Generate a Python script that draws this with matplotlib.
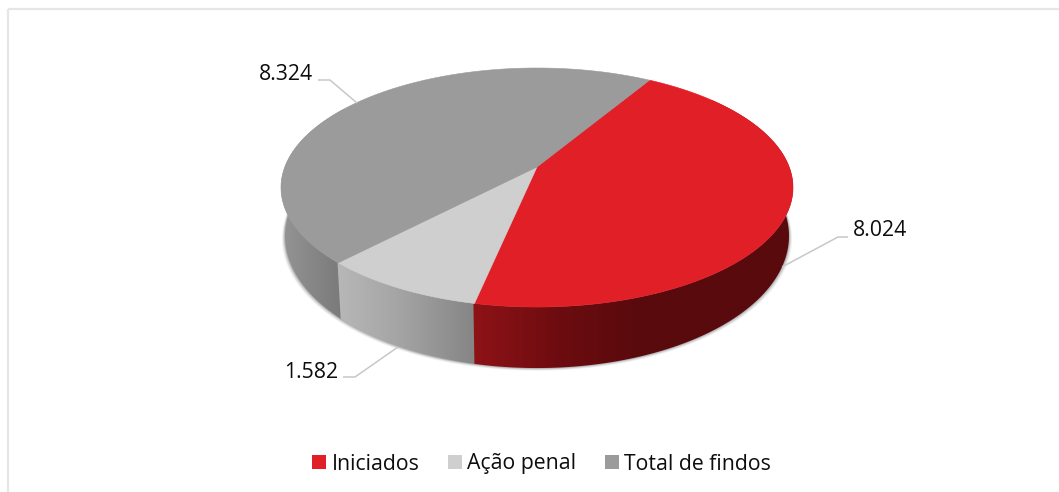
import numpy as np
import matplotlib
matplotlib.use("Agg")
import matplotlib.pyplot as plt
from matplotlib.patches import Polygon, Rectangle
from matplotlib.colors import LinearSegmentedColormap

categories = ["Iniciados", "Ação penal", "Total de findos"]
values = [8024, 1582, 8324]
value_labels = ["8.024", "1.582", "8.324"]
colors = ["#e01f26", "#cfcfcf", "#9b9b9b"]

plt.rcParams["font.family"] = ["Open Sans", "DejaVu Sans"]
W, H = 1059, 492
fig = plt.figure(figsize=(W / 100, H / 100), dpi=100, facecolor="white")
ax = fig.add_axes([0, 0, 1, 1])
ax.set_xlim(0, W); ax.set_ylim(H, 0); ax.axis("off")

# perspective disc: the apex sits above the ellipse centre
CX, APEX_Y, P, K, A = 537.0, 167.0, 116.0, 0.1717, 252.2
TOP_CY, BOT_CY, SY, SX = 187.5, 236.0, 132 / 119.5, 252 / 256
START = 30.8

def top_xy(deg):
    t = np.radians(deg)
    u, v = np.sin(t), np.cos(t)
    d = 1 + K * v
    return CX + A * u / d, APEX_Y - P * v / d

def bot_xy(deg):
    x, y = top_xy(deg)
    return CX + SX * (x - CX), BOT_CY + SY * (y - TOP_CY)

fracs = np.array(values, float) / np.sum(values)
edges = START + 360 * np.concatenate([[0], np.cumsum(fracs)])

# soft shadow under the disc
th = np.linspace(0, 360, 361)
bx, by = bot_xy(th)
for grow, a in [(3.0, .05), (2.2, .07), (1.4, .09), (0.7, .12)]:
    ax.add_patch(Polygon(np.c_[CX + (bx - CX) * (1 + grow / 250), by + grow * .9],
                         fc="#000000", alpha=a, ec="none", zorder=1))

# side walls with horizontal shading; each wall overlaps its neighbours slightly
wall_stops = [
    [(470, "#8f1317"), (560, "#6c0c10"), (640, "#590a0d"), (800, "#590a0d")],
    [(336, "#b8b8b8"), (400, "#a4a4a4"), (476, "#858585")],
    [(280, "#959595"), (344, "#797979")],
]
wall_order = [2, 1, 0]
for n, i in enumerate(wall_order):
    th = np.linspace(edges[i] - 0.2, edges[i + 1] + 0.2, 160)
    tx, ty = top_xy(th); bx, by = bot_xy(th)
    poly = Polygon(np.r_[np.c_[tx, ty], np.c_[bx, by][::-1]], fc="none", ec="none",
                   transform=ax.transData)
    ax.add_patch(poly)
    stops = wall_stops[i]
    x0, x1 = stops[0][0], stops[-1][0]
    cmap = LinearSegmentedColormap.from_list(
        "w", [((x - x0) / (x1 - x0), c) for x, c in stops])
    im = ax.imshow(np.linspace(0, 1, 256)[None, :], cmap=cmap, aspect="auto",
                   extent=(x0, x1, 400, 100), zorder=2 + n * 0.1, interpolation="bilinear")
    im.set_clip_path(poly)
ax.set_xlim(0, W); ax.set_ylim(H, 0)

# top faces
for i in range(3):
    th = np.linspace(edges[i], edges[i + 1], 200)
    tx, ty = top_xy(th)
    ax.add_patch(Polygon(np.r_[[[CX, APEX_Y]], np.c_[tx, ty]], fc=colors[i], ec=colors[i],
                         lw=0.4, zorder=3))

# leader lines and value labels
leaders = [
    ([848, 838, 782], [237, 237, 267]),
    ([343, 355, 398], [377, 377, 347]),
    ([318, 330, 357], [80, 80, 103]),
]
label_pos = [(880.5, 231), (311.5, 372), (286, 74)]
for (lx, ly), (px, py), txt in zip(leaders, label_pos, value_labels):
    ax.plot(lx, ly, color="#c8c8c8", lw=1.1, zorder=4, solid_capstyle="butt")
    ax.text(px, py, txt, fontsize=15.3, color="#0d0d0d", ha="center", va="center", zorder=5)

# legend
sq_x = [312, 448, 605]
txt_x = [332, 467, 624]
for x, tx_, c, name in zip(sq_x, txt_x, colors, categories):
    ax.add_patch(Rectangle((x, 455), 14, 14, fc=c, ec="none", zorder=5))
    ax.text(tx_, 464, name, fontsize=15.3, color="#0d0d0d", ha="left", va="center", zorder=5)

# chart frame
ax.plot([8, 8], [H, 9], color="#e6e6e6", lw=1.6, zorder=1, solid_capstyle="butt")
ax.plot([8, W], [9, 9], color="#e6e6e6", lw=1.6, zorder=1, solid_capstyle="butt")

fig.savefig("out.png", dpi=100, facecolor="white")
